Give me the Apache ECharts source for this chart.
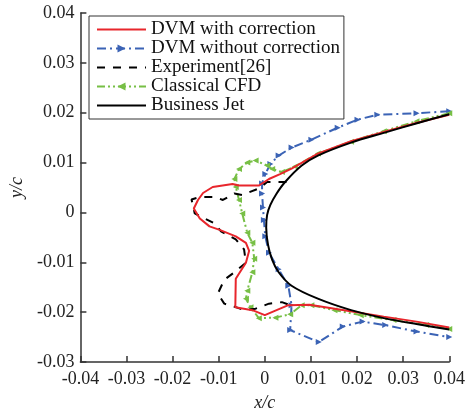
<!DOCTYPE html>
<html><head><meta charset="utf-8">
<script src="https://cdn.jsdelivr.net/npm/echarts@6/dist/echarts.min.js"></script>
<style>html,body{margin:0;padding:0;background:#fff}#c{width:468px;height:417px}</style>
</head><body><div id="c"></div>
<script>
const seriesNames = ['DVM with correction', 'DVM without correction', 'Experiment[26]', 'Classical CFD', 'Business Jet'];
const xRange = [-0.04, 0.04, 0.01];
const yRange = [-0.03, 0.04, 0.01];

const dvmWith = [[0.04,0.0196],[0.033,0.018],[0.026,0.0162],[0.0187,0.0143],[0.0115,0.0118],[0.0058,0.0088],[0.0033,0.0077],[0.0009,0.0067],[-0.0013,0.0054],[-0.0056,0.0054],[-0.007,0.0057],[-0.0113,0.0051],[-0.0134,0.0039],[-0.0145,0.0025],[-0.0154,0.0008],[-0.0141,-0.0012],[-0.012,-0.0028],[-0.0098,-0.0035],[-0.0063,-0.0048],[-0.0041,-0.0061],[-0.0034,-0.0077],[-0.0041,-0.0101],[-0.0063,-0.0133],[-0.0064,-0.019],[-0.0027,-0.0196],[0,-0.0206],[0.0051,-0.0186],[0.0097,-0.0185],[0.0172,-0.0196],[0.0258,-0.0209],[0.0329,-0.0219],[0.04,-0.0231]];

const dvmWithout = [[0.04,0.0203],[0.0329,0.0199],[0.0244,0.0196],[0.0201,0.0186],[0.0158,0.017],[0.0101,0.0146],[0.0058,0.013],[0.003,0.0114],[0.0012,0.0097],[0.0001,0.0077],[-0.0006,0.0058],[-0.0006,0.0038],[-0.0004,0.001],[-0.0002,-0.0015],[0.0001,-0.0048],[0.0009,-0.0081],[0.003,-0.0114],[0.0051,-0.0147],[0.0058,-0.0186],[0.0055,-0.0236],[0.0117,-0.026],[0.0169,-0.0229],[0.0212,-0.0219],[0.0261,-0.0226],[0.0329,-0.0239],[0.04,-0.025]];

const experiment = [[0.0047,0.0061],[0.0028,0.0061],[0.0005,0.0061],[-0.0013,0.0048],[-0.0049,0.0035],[-0.0066,0.0038],[-0.0091,0.0025],[-0.0109,0.0031],[-0.0141,0.0031],[-0.0159,0.0026],[-0.0155,0.0011],[-0.0152,-0.0002],[-0.0131,-0.0012],[-0.0109,-0.0022],[-0.0095,-0.0038],[-0.0063,-0.0054],[-0.0045,-0.0074],[-0.0041,-0.0101],[-0.0066,-0.012],[-0.0088,-0.0135],[-0.0102,-0.0163],[-0.0088,-0.0183],[-0.0063,-0.019],[-0.0045,-0.0196],[-0.002,-0.0193],[0.0009,-0.0183],[0.0037,-0.018],[0.0055,-0.0186]];

const classicalCFD = [[0.04,0.0199],[0.0329,0.0183],[0.0258,0.0163],[0.0187,0.0142],[0.0115,0.0118],[0.0065,0.0092],[0.0037,0.0081],[0.0016,0.0087],[0.0005,0.0094],[-0.002,0.0104],[-0.0038,0.01],[-0.0056,0.0087],[-0.0066,0.0067],[-0.0063,0.0051],[-0.0056,0.0025],[-0.0049,-0.0002],[-0.0038,-0.0041],[-0.0027,-0.0061],[-0.0023,-0.0093],[-0.0027,-0.012],[-0.0038,-0.0157],[-0.0041,-0.0173],[-0.0031,-0.019],[-0.0013,-0.0212],[0.0023,-0.0211],[0.0055,-0.0204],[0.008,-0.0186],[0.0101,-0.0186],[0.0151,-0.0196],[0.0208,-0.0206],[0.0279,-0.0216],[0.035,-0.0226],[0.04,-0.0234]];

const businessJet = [[0.04,0.0197],[0.033,0.0179],[0.026,0.016],[0.0187,0.014],[0.0115,0.0114],[0.008,0.0094],[0.0044,0.0061],[0.0025,0.0037],[0.0012,0.0015],[0.0005,-0.0005],[0.0003,-0.003],[0.0007,-0.0065],[0.0016,-0.0095],[0.003,-0.012],[0.0058,-0.0147],[0.0115,-0.0173],[0.0187,-0.0196],[0.0258,-0.0212],[0.0329,-0.0224],[0.04,-0.0235]];

const FONT = 'Liberation Serif';
const fmt = v => { const s = (+v.toFixed(2)).toString(); return s === '-0' ? '0' : s; };
const noMarker = new Set([seriesNames[0], seriesNames[2], seriesNames[4]]);

const chart = echarts.init(document.getElementById('c'), null, {renderer: 'canvas'});
const axisCommon = {
  axisLine: {show: true, onZero: false, lineStyle: {color: '#333', width: 1.5}},
  axisTick: {show: true, inside: true, length: 6, lineStyle: {color: '#333', width: 1.5}},
  splitLine: {show: false},
  axisLabel: {fontFamily: FONT, fontSize: 18, color: '#222', formatter: fmt},
  nameTextStyle: {fontFamily: FONT, fontSize: 18, fontStyle: 'italic', color: '#222'}
};
chart.setOption({
  animation: false,
  grid: {left: 76, right: 17, top: 13, bottom: 49},
  legend: {
    data: seriesNames.map(n => noMarker.has(n) ? {name: n, itemStyle: {opacity: 0}} : {name: n}),
    orient: 'vertical', left: 89, top: 16,
    itemWidth: 49, itemHeight: 10, itemGap: 0,
    padding: [4, 4, 4, 7],
    borderColor: '#333', borderWidth: 1, backgroundColor: '#fff',
    textStyle: {fontFamily: FONT, fontSize: 19, color: '#111', lineHeight: 17.6}
  },
  xAxis: Object.assign({type: 'value', min: xRange[0], max: xRange[1], interval: xRange[2],
    name: 'x/c', nameLocation: 'middle', nameGap: 32}, axisCommon,
    {axisLabel: Object.assign({}, axisCommon.axisLabel, {margin: 8})}),
  yAxis: Object.assign({type: 'value', min: yRange[0], max: yRange[1], interval: yRange[2],
    name: 'y/c', nameLocation: 'middle', nameGap: 54}, axisCommon,
    {axisLabel: Object.assign({}, axisCommon.axisLabel, {margin: 6})}),
  series: [
    {name: seriesNames[1], type: 'line', data: dvmWithout, symbol: 'triangle', symbolSize: 6, symbolRotate: -90,
      itemStyle: {color: '#3b63b5'}, lineStyle: {color: '#3b63b5', width: 2, type: [9, 4, 2, 4]}, z: 2},
    {name: seriesNames[3], type: 'line', data: classicalCFD, symbol: 'triangle', symbolSize: 6, symbolRotate: 90,
      itemStyle: {color: '#77bf45'}, lineStyle: {color: '#77bf45', width: 2, type: [8, 3, 2, 3, 2, 3]}, z: 3},
    {name: seriesNames[2], type: 'line', data: experiment, symbol: 'none',
      itemStyle: {color: '#000'}, lineStyle: {color: '#000', width: 2, type: [8, 8]}, z: 4},
    {name: seriesNames[0], type: 'line', data: dvmWith, symbol: 'none',
      itemStyle: {color: '#e8262c'}, lineStyle: {color: '#e8262c', width: 2}, z: 5},
    {name: seriesNames[4], type: 'line', data: businessJet, symbol: 'none', smooth: 0.3,
      itemStyle: {color: '#000'}, lineStyle: {color: '#000', width: 2}, z: 6}
  ]
});
</script></body></html>
